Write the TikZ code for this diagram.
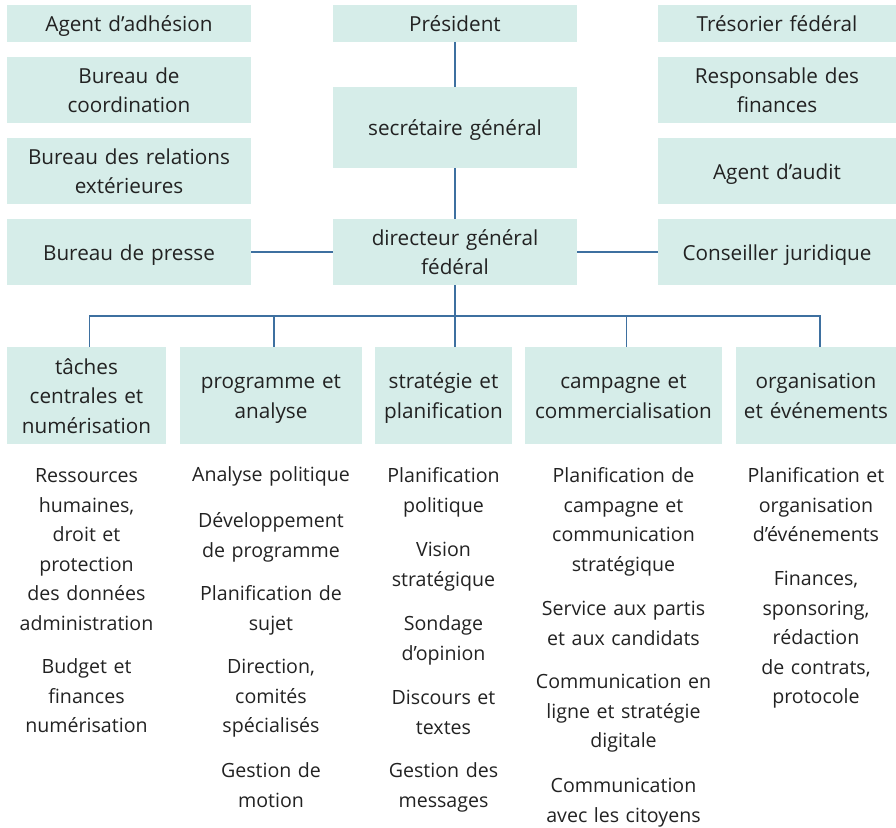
\documentclass[tikz,border=0pt]{standalone}
\usepackage{fontspec}
\setmainfont{Open Sans}

\definecolor{boxfill}{RGB}{214,237,233}
\definecolor{linkblue}{RGB}{62,112,160}
\definecolor{txt}{RGB}{34,34,34}
\newcommand{\unitfont}{\fontsize{20.7}{29.5}\selectfont}
\newcommand{\dutyfont}{\fontsize{19.6}{29.5}\selectfont}
\newcommand{\linestrut}{\rule[-6.7pt]{0pt}{29.5pt}}

\tikzset{
  unit/.style 2 args={fill=boxfill, text=txt, inner sep=0pt, align=center,
    text width=#1, minimum width=#1, minimum height=#2, font=\unitfont,
    execute at begin node=\linestrut, execute at end node=\linestrut},
  duty/.style={text=txt, inner sep=0pt, align=center, text width=#1,
    anchor=base, font=\dutyfont},
  link/.style={draw=linkblue, line width=1.5pt},
}

\begin{document}
\begin{tikzpicture}[x=1pt, y=-1pt]
  \useasboundingbox (0,0) rectangle (896,827);

  % staff units on the left
  \node[unit={244pt}{37pt}] (adh) at (129,23.5) {Agent d’adhésion};
  \node[unit={244pt}{66pt}] (coord) at (129,90) {Bureau de\\coordination};
  \node[unit={244pt}{66pt}] (relext) at (129,171) {Bureau des relations\\extérieures};
  \node[unit={244pt}{66pt}] (presse) at (129,252) {Bureau de presse};

  % line of command
  \node[unit={244pt}{37pt}] (pres) at (455,23.5) {Président};
  \node[unit={244pt}{81pt}] (sg) at (455,127.5) {secrétaire général};
  \node[unit={244pt}{66pt}] (dg) at (455,252) {directeur général\\fédéral};

  % staff units on the right
  \node[unit={238pt}{37pt}] (tres) at (777,23.5) {Trésorier fédéral};
  \node[unit={238pt}{66pt}] (fin) at (777,90) {Responsable des\\finances};
  \node[unit={238pt}{66pt}] (audit) at (777,171) {Agent d’audit};
  \node[unit={238pt}{66pt}] (jur) at (777,252) {Conseiller juridique};

  % departments
  \node[unit={159pt}{97pt}] (taches) at (86.5,395.5) {tâches\\centrales et\\numérisation};
  \node[unit={182pt}{97pt}] (prog) at (271,395.5) {programme et\\analyse};
  \node[unit={137pt}{97pt}] (strat) at (443.5,395.5) {stratégie et\\planification};
  \node[unit={197pt}{97pt}] (camp) at (623.5,395.5) {campagne et\\commercialisation};
  \node[unit={160pt}{97pt}] (orga) at (816,395.5) {organisation\\et événements};

  \draw[link] (pres) -- (sg) -- (dg);
  \draw[link] (presse) -- (dg);
  \draw[link] (dg) -- (jur);
  \coordinate (bus) at (455,316);
  \draw[link] (dg) -- (dg |- strat.north);
  \draw[link] ([xshift=3pt]taches.north) -- ([xshift=3pt]taches.north |- bus)
    -- ([xshift=4pt]orga.north |- bus) -- ([xshift=4pt]orga.north);
  \draw[link] ([xshift=3pt]prog.north) -- ([xshift=3pt]prog.north |- bus);
  \draw[link] ([xshift=3pt]camp.north) -- ([xshift=3pt]camp.north |- bus);

  % tasks of each department
  \node[duty=159pt] (c1a) at (86.5,482.5) {Ressources\\humaines,\\droit et\\protection\\des données\\administration};
  \node[duty=159pt] (c1b) at (86.5,673.5) {Budget et\\finances\\numérisation};

  \node[duty=182pt] (c2a) at (271,481.5) {Analyse politique};
  \node[duty=182pt] (c2b) at (271,527.5) {Développement\\de programme};
  \node[duty=182pt] (c2c) at (271,600.5) {Planification de\\sujet};
  \node[duty=182pt] (c2d) at (271,673.5) {Direction,\\comités\\spécialisés};
  \node[duty=182pt] (c2e) at (271,777.5) {Gestion de\\motion};

  \node[duty=137pt] (c3a) at (443.5,482.5) {Planification\\politique};
  \node[duty=137pt] (c3b) at (443.5,556.5) {Vision\\stratégique};
  \node[duty=137pt] (c3c) at (443.5,630.5) {Sondage\\d’opinion};
  \node[duty=137pt] (c3d) at (443.5,704.5) {Discours et\\textes};
  \node[duty=137pt] (c3e) at (443.5,777.5) {Gestion des\\messages};

  \node[duty=197pt] (c4a) at (623.5,482.5) {Planification de\\campagne et\\communication\\stratégique};
  \node[duty=197pt] (c4b) at (623.5,615.5) {Service aux partis\\et aux candidats};
  \node[duty=197pt] (c4c) at (623.5,688.5) {Communication en\\ligne et stratégie\\digitale};
  \node[duty=197pt] (c4d) at (623.5,792.5) {Communication\\avec les citoyens};

  \node[duty=160pt] (c5a) at (816,482.5) {Planification et\\organisation\\d’événements};
  \node[duty=160pt] (c5b) at (816,585.5) {Finances,\\sponsoring,\\rédaction\\de contrats,\\protocole};
\end{tikzpicture}
\end{document}
